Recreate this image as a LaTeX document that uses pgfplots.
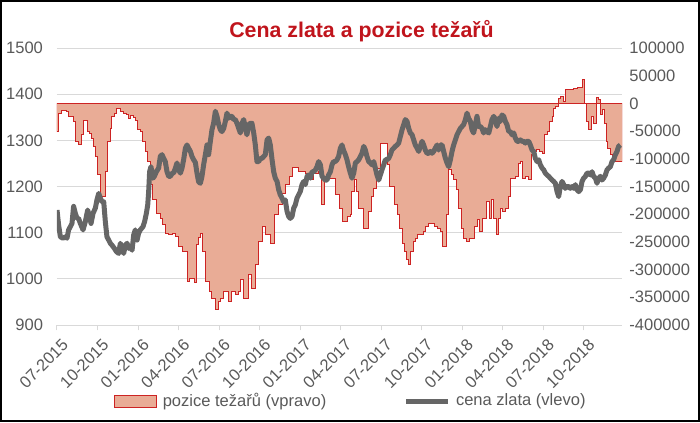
\documentclass[border=0pt]{standalone}
\usepackage{fontspec}
\setmainfont{Liberation Sans}
\usepackage{pgfplots}
\usepackage{pgfplotstable}
\pgfplotsset{compat=1.18}

\definecolor{areafill}{RGB}{233,172,150}
\definecolor{areared}{RGB}{205,35,35}
\definecolor{pricegray}{RGB}{102,102,102}
\definecolor{txtgray}{RGB}{89,89,89}
\definecolor{gridgray}{RGB}{217,217,217}
\definecolor{titlered}{RGB}{192,20,28}

\pgfplotsset{
  arealeg/.style={legend image code/.code={\draw[##1] (0pt,-4.5pt) rectangle (31.5pt,4.5pt);}},
  lineleg/.style={legend image code/.code={\draw[##1] (0pt,0pt) -- (31.5pt,0pt);}},
  common/.style={
    scale only axis, width=423.75pt, height=207.75pt,
    xmin=0, xmax=41.85,
    scaled y ticks=false,
    ticklabel style={font=\fontsize{12.4}{14}\selectfont, text=txtgray},
  },
}

% pozice tezaru (months since 07-2015, contracts)
\pgfplotstableread{
m pos
0.00 -50600
0.12 -17500
0.37 -13200
0.74 -14400
0.86 -23500
1.19 -32500
1.36 -68600
1.60 -73400
1.78 -68600
1.85 -56600
1.98 -31300
2.27 -50600
2.42 -53600
2.52 -62600
2.67 -77700
2.84 -95700
3.01 -128800
3.21 -168000
3.58 -122800
3.75 -68600
3.95 -44500
4.07 -23500
4.25 -17500
4.44 -8400
4.69 -14400
4.89 -17500
5.14 -20500
5.31 -26500
5.48 -21700
5.68 -25300
5.80 -31300
5.98 -47600
6.17 -50600
6.37 -68600
6.54 -86700
6.72 -104700
6.91 -146900
7.11 -174000
7.36 -198100
7.65 -207100
7.85 -219100
8.02 -234200
8.27 -237200
8.52 -234200
8.77 -240200
9.01 -258300
9.26 -267300
9.63 -321500
9.83 -315400
10.17 -322700
10.32 -255200
10.49 -242000
10.62 -234200
10.79 -267300
10.99 -321500
11.28 -339500
11.48 -351600
11.73 -372600
11.93 -357600
12.10 -351600
12.35 -339500
12.67 -357600
12.91 -339500
13.21 -345500
13.41 -339500
13.58 -318500
13.83 -351600
14.15 -309400
14.44 -333500
14.69 -291400
14.94 -249200
15.19 -222100
15.43 -237200
15.80 -252200
16.12 -201100
16.37 -183000
16.67 -161900
16.91 -146900
17.21 -131800
17.46 -115600
17.90 -122800
18.40 -125800
18.77 -137900
19.01 -125800
19.38 -122800
19.58 -183000
19.83 -134800
20.62 -164900
20.91 -189000
21.16 -213100
21.53 -204100
21.73 -201100
21.85 -158900
22.02 -137900
22.17 -158900
22.35 -189000
22.72 -225100
23.09 -195000
23.26 -168000
23.46 -152900
23.65 -116800
23.95 -71600
24.49 -110800
24.64 -149900
24.99 -183000
25.19 -201100
25.38 -225100
25.56 -252200
25.73 -267300
25.88 -282300
26.05 -291400
26.22 -267300
26.37 -249200
26.54 -243200
26.72 -237200
27.11 -231200
27.28 -222100
27.53 -216100
27.95 -222100
28.20 -225100
28.40 -231200
28.52 -258300
28.84 -201100
29.01 -119800
29.21 -128800
29.38 -137900
29.58 -155900
29.75 -189000
29.93 -225100
30.12 -243200
30.32 -249200
30.57 -243200
30.94 -222100
31.11 -210100
31.31 -231200
31.48 -207100
31.85 -177000
32.02 -207100
32.17 -174000
32.35 -207100
32.52 -236000
32.67 -207100
32.84 -189000
33.01 -195000
33.21 -189000
33.41 -168000
33.58 -134800
33.95 -131800
34.15 -107800
34.32 -104700
34.49 -134800
34.69 -131800
34.94 -137900
35.14 -92700
35.31 -86700
35.48 -83700
35.73 -86700
35.93 -89700
36.12 -56600
36.30 -50600
36.47 -32500
36.67 -23500
36.79 -8400
36.96 -5400
37.11 9600
37.28 12600
37.53 3600
37.70 24700
38.27 27700
38.52 28900
38.89 42700
39.09 600
39.21 -32500
39.38 -47600
39.58 -23500
39.75 -35500
39.93 10800
40.12 6600
40.25 -20500
40.42 -11400
40.57 -35500
40.67 -68600
40.81 -80700
40.99 -92700
41.16 -104700
41.85 -104700
}\pozice

% cena zlata (USD/oz)
\pgfplotstableread{
m cena
0.00 1149
0.12 1117
0.25 1091
0.44 1088
0.62 1091
0.74 1088
0.86 1106
0.99 1113
1.11 1120
1.23 1157
1.36 1142
1.48 1131
1.60 1131
1.73 1120
1.93 1106
2.10 1124
2.27 1149
2.42 1135
2.52 1120
2.67 1142
2.84 1153
2.96 1171
3.09 1185
3.21 1175
3.33 1167
3.46 1167
3.58 1124
3.70 1091
3.83 1084
3.95 1077
4.07 1073
4.25 1066
4.40 1059
4.57 1055
4.69 1077
4.81 1066
4.94 1055
5.06 1073
5.19 1077
5.31 1066
5.43 1070
5.56 1062
5.68 1095
5.80 1106
5.93 1084
6.05 1099
6.17 1106
6.37 1113
6.49 1124
6.62 1142
6.72 1160
6.79 1189
6.86 1232
6.96 1243
7.11 1218
7.21 1222
7.36 1232
7.53 1240
7.65 1265
7.78 1269
7.90 1261
8.02 1254
8.15 1232
8.27 1222
8.40 1222
8.52 1229
8.64 1229
8.77 1240
8.89 1251
9.01 1236
9.14 1229
9.26 1240
9.38 1258
9.51 1283
9.63 1290
9.75 1283
9.88 1276
10.00 1265
10.12 1258
10.25 1252
10.37 1229
10.49 1210
10.62 1207
10.74 1222
10.86 1247
10.99 1269
11.11 1290
11.23 1269
11.36 1298
11.48 1323
11.60 1337
11.73 1363
11.85 1352
11.98 1334
12.10 1323
12.22 1319
12.35 1326
12.47 1341
12.59 1359
12.72 1348
12.84 1352
12.96 1352
13.09 1345
13.21 1345
13.33 1337
13.46 1326
13.58 1316
13.70 1337
13.83 1345
13.95 1326
14.07 1312
14.20 1334
14.32 1337
14.44 1337
14.57 1316
14.69 1290
14.81 1254
14.94 1254
15.06 1261
15.19 1261
15.31 1265
15.43 1269
15.56 1301
15.68 1305
15.80 1290
15.93 1258
16.05 1232
16.17 1218
16.30 1211
16.42 1193
16.54 1182
16.67 1175
16.79 1167
16.91 1171
17.04 1146
17.16 1135
17.28 1131
17.41 1135
17.53 1153
17.65 1160
17.78 1175
17.90 1182
18.02 1189
18.15 1204
18.27 1211
18.40 1204
18.52 1222
18.64 1225
18.77 1218
18.89 1232
19.01 1232
19.14 1236
19.26 1243
19.38 1254
19.51 1247
19.63 1222
19.75 1218
19.88 1214
20.00 1214
20.12 1225
20.25 1232
20.37 1247
20.49 1254
20.62 1254
20.74 1258
20.86 1265
20.99 1283
21.11 1290
21.23 1278
21.36 1269
21.48 1258
21.60 1243
21.73 1229
21.85 1218
21.98 1229
22.10 1251
22.22 1254
22.35 1258
22.47 1265
22.59 1272
22.72 1287
22.84 1279
22.96 1265
23.09 1254
23.21 1251
23.33 1247
23.46 1254
23.58 1240
23.70 1225
23.83 1214
23.95 1225
24.07 1236
24.20 1247
24.32 1258
24.44 1258
24.57 1261
24.69 1269
24.81 1279
24.94 1283
25.06 1287
25.19 1290
25.31 1294
25.43 1308
25.56 1323
25.68 1334
25.80 1345
25.93 1341
26.05 1326
26.17 1316
26.30 1312
26.42 1301
26.54 1290
26.67 1283
26.79 1276
26.91 1287
27.04 1298
27.16 1290
27.28 1279
27.41 1272
27.53 1272
27.65 1276
27.78 1272
27.90 1276
28.02 1283
28.15 1290
28.27 1279
28.40 1290
28.52 1290
28.64 1276
28.77 1261
28.89 1251
29.01 1243
29.14 1258
29.26 1276
29.38 1290
29.51 1301
29.63 1312
29.75 1319
29.88 1326
30.00 1330
30.12 1334
30.25 1345
30.37 1359
30.49 1348
30.62 1341
30.74 1323
30.86 1316
30.99 1334
31.11 1352
31.23 1330
31.36 1330
31.48 1326
31.60 1316
31.73 1323
31.85 1319
31.98 1316
32.10 1330
32.22 1345
32.35 1352
32.47 1345
32.59 1330
32.72 1348
32.84 1341
32.96 1355
33.09 1352
33.21 1341
33.33 1334
33.46 1319
33.58 1319
33.70 1312
33.83 1316
33.95 1305
34.07 1298
34.20 1298
34.32 1301
34.44 1298
34.57 1298
34.69 1294
34.81 1298
34.94 1298
35.06 1290
35.19 1279
35.31 1276
35.43 1261
35.56 1254
35.68 1258
35.80 1247
35.93 1240
36.05 1236
36.17 1229
36.30 1225
36.42 1222
36.54 1218
36.67 1214
36.79 1211
36.91 1207
37.04 1189
37.16 1178
37.28 1200
37.41 1211
37.53 1204
37.65 1196
37.78 1200
37.90 1200
38.02 1196
38.15 1200
38.27 1196
38.40 1204
38.52 1193
38.64 1189
38.77 1193
38.89 1211
39.01 1218
39.14 1222
39.26 1229
39.38 1229
39.51 1225
39.63 1232
39.75 1222
39.88 1218
40.00 1207
40.12 1218
40.25 1222
40.37 1214
40.49 1218
40.62 1225
40.74 1236
40.86 1240
40.99 1243
41.11 1254
41.23 1258
41.36 1269
41.48 1276
41.60 1287
41.73 1290
}\cena

\begin{document}
\begin{tikzpicture}
\useasboundingbox (-42.75pt,-72.75pt) rectangle (482.25pt,243.75pt);

% prava osa: pozice tezaru + mrizka
\begin{axis}[common,
  ymin=-400000, ymax=100000,
  axis x line=none,
  axis y line*=right,
  y axis line style={draw=none},
  ytick={-400000,-350000,-300000,-250000,-200000,-150000,-100000,-50000,0,50000,100000},
  yticklabels={-400000,-350000,-300000,-250000,-200000,-150000,-100000,-50000,0,50000,100000},
  ytick style={draw=none},
  yticklabel style={xshift=2pt},
  extra y ticks={-400000,-316666.67,-233333.33,-150000,-66666.67,16666.67,100000},
  extra y tick labels={,,,,,,},
  extra y tick style={grid=major, major grid style={gridgray, line width=0.75pt}},
]
\addplot[const plot, fill=areafill, draw=areared, line width=0.75pt] table[x=m, y=pos] {\pozice} \closedcycle;
\end{axis}

% leva osa: cena zlata
\begin{axis}[common,
  /pgf/number format/assume math mode=true,
  /pgf/number format/set thousands separator={},
  ymin=900, ymax=1500,
  axis y line*=left,
  axis x line*=bottom,
  y axis line style={draw=none},
  x axis line style={gridgray, line width=0.75pt},
  ytick={900,1000,...,1500},
  ytick style={draw=none},
  yticklabel style={xshift=-3pt},
  xtick={0,3,...,39},
  xticklabels={07-2015,10-2015,01-2016,04-2016,07-2016,10-2016,01-2017,04-2017,07-2017,10-2017,01-2018,04-2018,07-2018,10-2018},
  xtick style={gridgray, line width=0.75pt},
  tick align=outside, major tick length=4pt,
  xticklabel style={xshift=3pt, yshift=-5pt, rotate=45, anchor=north east, inner sep=0.5pt},
  every axis title shift=0pt,
  title={Cena zlata a pozice težařů},
  title style={at={(0.539,1.0397)}, anchor=base, font=\fontsize{16}{19}\selectfont\bfseries, text=titlered},
  legend style={at={(0.521,-0.2744)}, anchor=center, draw=none, fill=none,
    font=\fontsize{12.4}{14}\selectfont, text=txtgray,
    /tikz/every odd column/.style={column sep=2pt},
    /tikz/column 2/.style={column sep=56pt}},
  legend columns=2,
]
\addlegendimage{arealeg, fill=areafill, draw=areared, line width=0.75pt}
\addlegendentry{pozice težařů (vpravo)}
\addplot[lineleg, pricegray, line width=3.75pt, line join=round] table[x=m, y=cena] {\cena};
\addlegendentry{cena zlata (vlevo)}
\end{axis}

\draw[black, line width=1.2pt] (-42.15pt,-72.15pt) rectangle (481.65pt,243.15pt);
\end{tikzpicture}
\end{document}
